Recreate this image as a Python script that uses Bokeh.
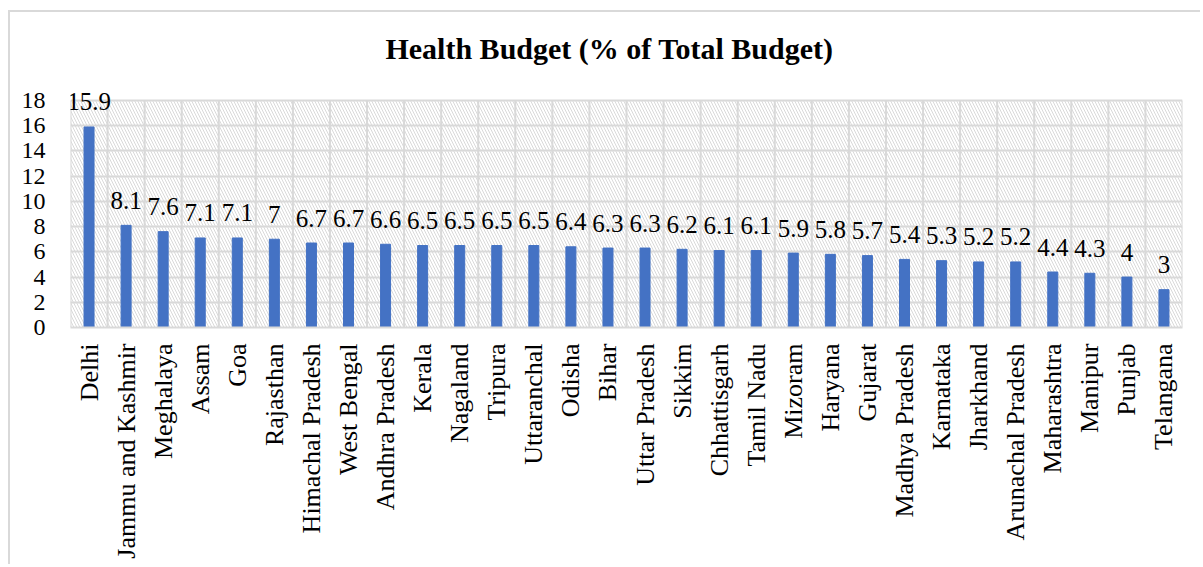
import math
from bokeh.plotting import figure
from bokeh.models import ColumnDataSource, Label, BoxAnnotation, FixedTicker, Range1d
from bokeh.embed import file_html
from bokeh.resources import INLINE

states = ["Delhi", "Jammu and Kashmir", "Meghalaya", "Assam", "Goa", "Rajasthan",
          "Himachal Pradesh", "West Bengal", "Andhra Pradesh", "Kerala", "Nagaland",
          "Tripura", "Uttaranchal", "Odisha", "Bihar", "Uttar Pradesh", "Sikkim",
          "Chhattisgarh", "Tamil Nadu", "Mizoram", "Haryana", "Gujarat",
          "Madhya Pradesh", "Karnataka", "Jharkhand", "Arunachal Pradesh",
          "Maharashtra", "Manipur", "Punjab", "Telangana"]
values = [15.9, 8.1, 7.6, 7.1, 7.1, 7, 6.7, 6.7, 6.6, 6.5, 6.5, 6.5, 6.5, 6.4, 6.3,
          6.3, 6.2, 6.1, 6.1, 5.9, 5.8, 5.7, 5.4, 5.3, 5.2, 5.2, 4.4, 4.3, 4, 3]
value_labels = ["15.9", "8.1", "7.6", "7.1", "7.1", "7", "6.7", "6.7", "6.6", "6.5",
                "6.5", "6.5", "6.5", "6.4", "6.3", "6.3", "6.2", "6.1", "6.1", "5.9",
                "5.8", "5.7", "5.4", "5.3", "5.2", "5.2", "4.4", "4.3", "4", "3"]
y_ticks = [0, 2, 4, 6, 8, 10, 12, 14, 16, 18]
y_max = 18
title_text = "Health Budget (% of Total Budget)"

FONT = "Liberation Serif"
GRID = "#d9d9d9"

n = len(states)
idx = list(range(n))
src = ColumnDataSource(dict(x=idx, top=values))
bounds = [i - 0.5 for i in range(n + 1)]
gsrc = ColumnDataSource(dict(x=bounds, y0=[0] * len(bounds), y1=[y_max] * len(bounds)))

# frame spans page y 20..327; value 18 sits at page y 100
top_border = 8
frame_h = 554 - top_border - 239
y_end = frame_h * y_max / 227.0

p = figure(width=1192, height=554, output_backend="svg", toolbar_location=None,
           x_range=Range1d(-0.5, n - 0.5), y_range=Range1d(0, y_end),
           min_border_left=60, min_border_right=20, min_border_top=top_border,
           min_border_bottom=239, margin=(10, 0, 0, 8))
p.styles = {"border-top": "2px solid #d9d9d9", "border-left": "2px solid #d9d9d9"}

p.outline_line_color = None
p.background_fill_color = "white"
p.border_fill_color = "white"

p.add_layout(Label(x=539, y=279, x_units="screen", y_units="screen", text=title_text,
                   text_align="center", text_baseline="middle", text_font=FONT,
                   text_font_size="30px", text_font_style="bold", text_color="#000000"))

bg = BoxAnnotation(top=y_max, bottom=0, fill_alpha=0, line_color=None,
                   hatch_pattern="\\", hatch_color="#d9d9d9", hatch_scale=6,
                   hatch_weight=1, level="image")
p.add_layout(bg)

p.segment(x0="x", y0="y0", x1="x", y1="y1", source=gsrc, line_color=GRID, line_width=2)
p.vbar(x="x", top="top", width=0.27, source=src, color="#4472C4")

for xi, v, lbl in zip(idx, values, value_labels):
    p.add_layout(Label(x=xi, y=v, text=lbl, text_align="center",
                       text_baseline="alphabetic", y_offset=25, text_font=FONT,
                       text_font_size="25px", text_color="#000000"))

p.yaxis.ticker = FixedTicker(ticks=y_ticks)
p.yaxis.axis_line_color = None
p.yaxis.major_tick_line_color = None
p.yaxis.minor_tick_line_color = None
p.yaxis.major_label_text_font = FONT
p.yaxis.major_label_text_font_size = "24px"
p.yaxis.major_label_text_color = "#000000"
p.yaxis.major_label_standoff = 19

p.xaxis.ticker = FixedTicker(ticks=idx)
p.xaxis.major_label_overrides = {i: s for i, s in enumerate(states)}
p.xaxis.major_label_orientation = math.pi / 2
p.xaxis.axis_line_color = GRID
p.xaxis.axis_line_width = 2
p.xaxis.major_tick_line_color = None
p.xaxis.minor_tick_line_color = None
p.xaxis.major_label_text_font = FONT
p.xaxis.major_label_text_font_size = "26px"
p.xaxis.major_label_text_color = "#000000"
p.xaxis.major_label_standoff = 10

p.ygrid.ticker = FixedTicker(ticks=y_ticks)
p.ygrid.grid_line_color = GRID
p.ygrid.grid_line_width = 2
p.xgrid.grid_line_color = None

open("out.html", "w").write(file_html(p, INLINE))
